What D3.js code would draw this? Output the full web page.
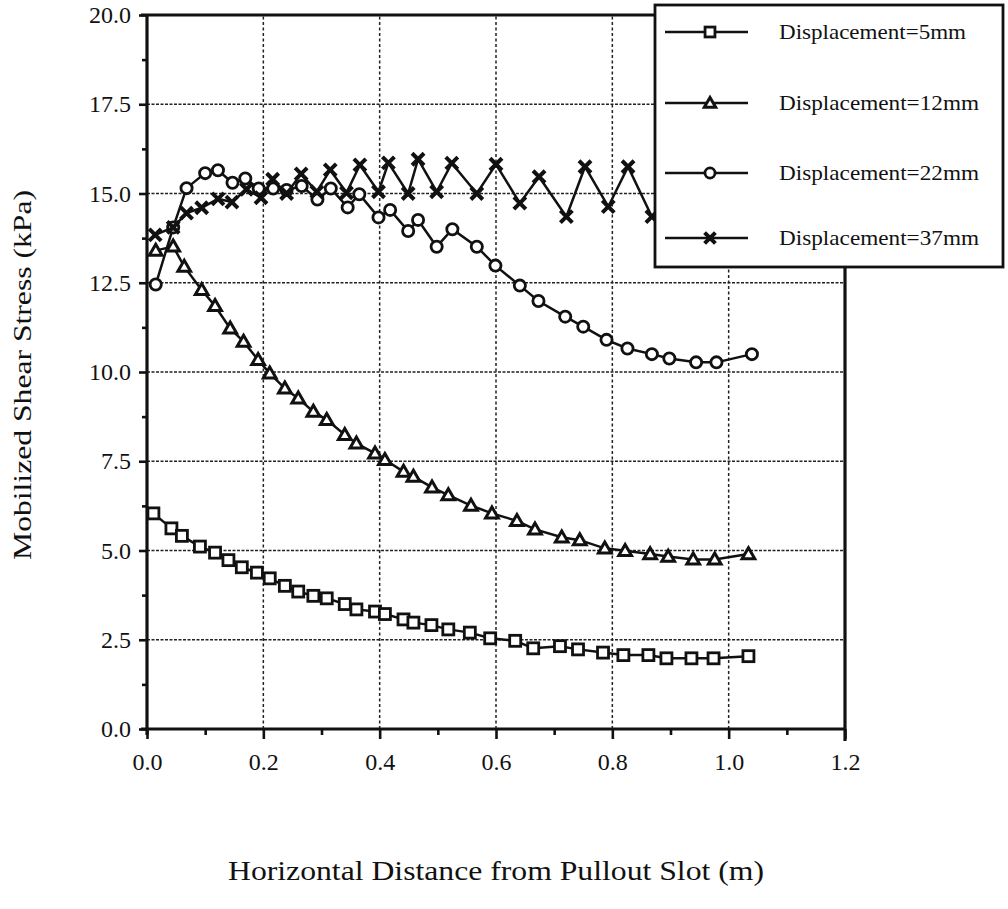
<!DOCTYPE html>
<html>
<head>
<meta charset="utf-8">
<script src="https://cdn.jsdelivr.net/npm/d3@7"></script>
<style>
  body { margin: 0; background: #fff; }
  svg { display: block; }
  text { font-family: "Liberation Serif", "Times New Roman", serif; fill: #111; }
</style>
</head>
<body>
<svg id="chart" width="1008" height="909"></svg>
<script>
// ---- data ----
const xTicks = [0.0, 0.2, 0.4, 0.6, 0.8, 1.0, 1.2];
const yTicks = [0.0, 2.5, 5.0, 7.5, 10.0, 12.5, 15.0, 17.5, 20.0];
const seriesNames = ["Displacement=5mm", "Displacement=12mm", "Displacement=22mm", "Displacement=37mm"];

const d5x = [0.011,0.042,0.060,0.091,0.117,0.140,0.163,0.189,0.211,0.237,0.260,0.286,0.309,0.340,0.360,0.392,0.409,0.441,0.458,0.489,0.518,0.555,0.590,0.633,0.664,0.710,0.741,0.784,0.819,0.862,0.893,0.936,0.974,1.034];
const d5y = [6.04,5.62,5.41,5.11,4.94,4.73,4.53,4.38,4.22,4.01,3.85,3.73,3.66,3.50,3.35,3.29,3.22,3.07,2.98,2.91,2.79,2.70,2.54,2.47,2.26,2.32,2.23,2.14,2.07,2.07,1.98,1.98,1.98,2.04];

const d12x = [0.015,0.045,0.064,0.094,0.117,0.143,0.166,0.191,0.211,0.237,0.260,0.286,0.309,0.340,0.360,0.392,0.409,0.441,0.458,0.490,0.518,0.557,0.593,0.636,0.667,0.713,0.744,0.787,0.822,0.865,0.896,0.939,0.976,1.034];
const d12y = [13.40,13.52,12.95,12.30,11.85,11.22,10.85,10.34,9.96,9.54,9.26,8.89,8.66,8.24,8.00,7.72,7.54,7.21,7.07,6.77,6.55,6.26,6.04,5.83,5.59,5.37,5.29,5.06,4.99,4.90,4.83,4.75,4.75,4.90];

const d22x = [0.015,0.045,0.068,0.100,0.122,0.147,0.169,0.192,0.217,0.240,0.266,0.293,0.316,0.345,0.365,0.398,0.418,0.449,0.466,0.498,0.525,0.567,0.599,0.641,0.673,0.719,0.750,0.790,0.826,0.868,0.898,0.944,0.979,1.040];
const d22y = [12.45,14.05,15.15,15.57,15.65,15.30,15.42,15.14,15.14,15.10,15.21,14.83,15.14,14.61,14.98,14.33,14.54,13.95,14.26,13.51,14.00,13.51,12.98,12.42,11.99,11.55,11.27,10.90,10.66,10.50,10.38,10.27,10.27,10.50];

const d37x = [0.014,0.045,0.068,0.094,0.122,0.146,0.171,0.196,0.216,0.240,0.265,0.292,0.315,0.343,0.366,0.398,0.415,0.449,0.466,0.498,0.524,0.567,0.600,0.641,0.674,0.721,0.753,0.793,0.827,0.868];
const d37y = [13.84,14.05,14.45,14.60,14.85,14.76,15.12,14.88,15.40,15.00,15.55,15.05,15.66,15.02,15.80,15.05,15.86,15.00,15.96,15.05,15.85,15.00,15.82,14.73,15.47,14.35,15.75,14.63,15.75,14.35];

// ---- layout ----
const svg = d3.select("#chart");
const x = d3.scaleLinear().domain([0, 1.2]).range([147, 845]);
const y = d3.scaleLinear().domain([0, 20]).range([729, 15]);

// grid lines
const grid = svg.append("g");
grid.selectAll("line.h").data(yTicks.filter(v => v > 0 && v < 20)).enter().append("line")
  .attr("x1", x(0)).attr("x2", x(1.2)).attr("y1", d => y(d)).attr("y2", d => y(d))
  .attr("stroke", "#222").attr("stroke-width", 1.7).attr("stroke-dasharray", "3,1.5");
grid.selectAll("line.v").data(xTicks.filter(v => v > 0 && v < 1.2)).enter().append("line")
  .attr("y1", y(0)).attr("y2", y(20)).attr("x1", d => x(d)).attr("x2", d => x(d))
  .attr("stroke", "#222").attr("stroke-width", 1.5).attr("stroke-dasharray", "3,2.5");

// axes
const yAxis = d3.axisLeft(y).tickValues(yTicks).tickFormat(d3.format(".1f")).tickSize(8).tickPadding(8);
const yMinor = d3.axisLeft(y).tickValues(d3.range(1.25, 20, 2.5)).tickFormat("").tickSize(5);
const xAxis = d3.axisBottom(x).tickValues(xTicks).tickFormat(d3.format(".1f")).tickSize(10).tickPadding(14);
const xMinor = d3.axisBottom(x).tickValues(d3.range(0.1, 1.2, 0.2)).tickFormat("").tickSize(6);

function styleAxis(g) {
  g.select(".domain").remove();
  g.selectAll(".tick line").attr("stroke", "#111").attr("stroke-width", 2.6);
  g.selectAll(".tick text").style("font-size", "24px").style("font-family", '"Liberation Serif", "Times New Roman", serif').attr("fill", "#111");
}
svg.append("g").attr("transform", `translate(${x(0)},0)`).call(yAxis).call(styleAxis);
svg.append("g").attr("transform", `translate(${x(0)},0)`).call(yMinor).call(styleAxis);
svg.append("g").attr("transform", `translate(0,${y(0)})`).call(xAxis).call(styleAxis);
svg.append("g").attr("transform", `translate(0,${y(0)})`).call(xMinor).call(styleAxis);

// frame
const frame = svg.append("g").attr("stroke", "#111").attr("stroke-width", 3.2).attr("fill", "none");
frame.append("line").attr("x1", x(0)).attr("x2", x(0)).attr("y1", y(20) - 1).attr("y2", y(0) + 6);
frame.append("line").attr("x1", x(0) - 6).attr("x2", x(1.2)).attr("y1", y(0)).attr("y2", y(0));
frame.append("line").attr("x1", x(0) - 6).attr("x2", x(1.2)).attr("y1", y(20)).attr("y2", y(20));
frame.append("line").attr("x1", x(1.2)).attr("x2", x(1.2)).attr("y1", y(20)).attr("y2", y(0) + 12);

// ---- series ----
const line = d3.line().x(d => x(d[0])).y(d => y(d[1]));
const series = [
  { name: seriesNames[0], pts: d5x.map((v, i) => [v, d5y[i]]), mark: "square" },
  { name: seriesNames[1], pts: d12x.map((v, i) => [v, d12y[i]]), mark: "triangle" },
  { name: seriesNames[2], pts: d22x.map((v, i) => [v, d22y[i]]), mark: "circle" },
  { name: seriesNames[3], pts: d37x.map((v, i) => [v, d37y[i]]), mark: "cross" }
];

function drawMarker(g, type, cx, cy, s) {
  s = s || 1;
  if (type === "square") {
    g.append("rect").attr("x", cx - 5.5 * s).attr("y", cy - 5.5 * s).attr("width", 11 * s).attr("height", 11 * s)
      .attr("fill", "#fff").attr("stroke", "#111").attr("stroke-width", 2.8);
  } else if (type === "triangle") {
    g.append("path").attr("d", d3.symbol(d3.symbolTriangle, 70 * s * s)())
      .attr("transform", `translate(${cx},${cy + 1})`)
      .attr("fill", "#fff").attr("stroke", "#111").attr("stroke-width", 3);
  } else if (type === "circle") {
    g.append("circle").attr("cx", cx).attr("cy", cy).attr("r", 5.6 * s)
      .attr("fill", "#fff").attr("stroke", "#111").attr("stroke-width", 2.8);
  } else {
    const r = 6 * s;
    g.append("path").attr("d", `M${cx - r},${cy - r}L${cx + r},${cy + r}M${cx - r},${cy + r}L${cx + r},${cy - r}`)
      .attr("stroke", "#111").attr("stroke-width", 4).attr("fill", "none");
  }
}

series.forEach(s => {
  const g = svg.append("g");
  g.append("path").datum(s.pts).attr("d", line)
    .attr("fill", "none").attr("stroke", "#111").attr("stroke-width", 2.5);
  s.pts.forEach(p => drawMarker(g, s.mark, x(p[0]), y(p[1]), 1));
});

// ---- legend ----
const lg = svg.append("g");
lg.append("rect").attr("x", 655).attr("y", 5).attr("width", 348).attr("height", 262)
  .attr("fill", "#fff").attr("stroke", "#111").attr("stroke-width", 2.8);
const rowY = [32, 103, 173, 238];
const txtLen = [187, 200, 200, 200];
series.forEach((s, i) => {
  const gy = rowY[i];
  lg.append("line").attr("x1", 665).attr("x2", 748).attr("y1", gy).attr("y2", gy)
    .attr("stroke", "#111").attr("stroke-width", 2.5);
  drawMarker(lg, s.mark, 710, gy, 0.9);
  lg.append("text").attr("x", 779).attr("y", gy + 7).text(s.name)
    .style("font-size", "22px").attr("textLength", txtLen[i]).attr("lengthAdjust", "spacingAndGlyphs");
});

// ---- axis titles ----
svg.append("text").attr("transform", "translate(31,375) rotate(-90)")
  .attr("text-anchor", "middle").style("font-size", "26px")
  .attr("textLength", 370).attr("lengthAdjust", "spacingAndGlyphs")
  .text("Mobilized Shear Stress (kPa)");
svg.append("text").attr("x", 496).attr("y", 880)
  .attr("text-anchor", "middle").style("font-size", "27px")
  .attr("textLength", 536).attr("lengthAdjust", "spacingAndGlyphs")
  .text("Horizontal Distance from Pullout Slot (m)");
</script>
</body>
</html>
